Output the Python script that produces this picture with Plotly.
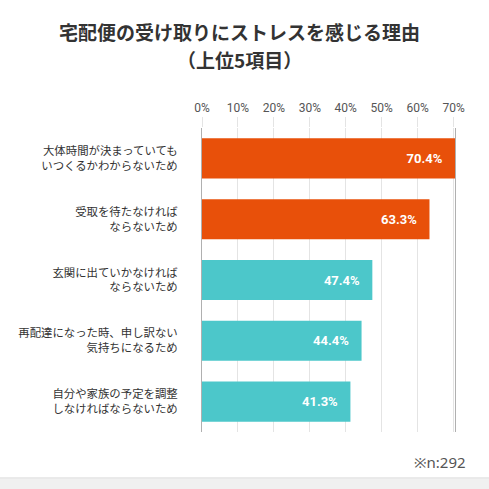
import plotly.graph_objects as go

categories = [
    "大体時間が決まっていても<br>いつくるかわからないため",
    "受取を待たなければ<br>ならないため",
    "玄関に出ていかなければ<br>ならないため",
    "再配達になった時、申し訳ない<br>気持ちになるため",
    "自分や家族の予定を調整<br>しなければならないため",
]
values = [70.4, 63.3, 47.4, 44.4, 41.3]
bar_colors = ["#E8500A", "#E8500A", "#4CC7CA", "#4CC7CA", "#4CC7CA"]
tick_vals = [0, 10, 20, 30, 40, 50, 60, 70]
tick_text = ["0%", "10%", "20%", "30%", "40%", "50%", "60%", "70%"]
title_lines = ["宅配便の受け取りにストレスを感じる理由", "（上位5項目）"]
note_text = "※n:292"

FONT = "Noto Sans CJK JP"
NUM_FONT = "Roboto"

fig = go.Figure(go.Bar(
    x=values,
    y=categories,
    orientation="h",
    marker=dict(color=bar_colors, line=dict(width=0)),
    texttemplate="<b>%{x:.1f}%</b>&nbsp;&nbsp;&nbsp;",
    textposition="inside",
    insidetextanchor="end",
    textfont=dict(color="white", size=13, family=NUM_FONT),
    cliponaxis=False,
))

annotations = [
    dict(text="<b>" + title_lines[0] + "</b>", xref="paper", yref="paper",
         x=0.150, y=1.3174, xanchor="center", yanchor="middle", showarrow=False,
         font=dict(size=19, color="#333333", family=FONT)),
    dict(text="<b>" + title_lines[1] + "</b>", xref="paper", yref="paper",
         x=0.150, y=1.2253, xanchor="center", yanchor="middle", showarrow=False,
         font=dict(size=19, color="#333333", family=FONT)),
    dict(text=note_text, xref="paper", yref="paper", x=1.051, y=-0.0987,
         xanchor="right", yanchor="middle", showarrow=False,
         font=dict(size=15, color="#555555", family="Noto Sans")),
]

fig.update_layout(
    width=489, height=489,
    margin=dict(l=202, r=34, t=128, b=57),
    paper_bgcolor="white",
    plot_bgcolor="white",
    bargap=0.34,
    showlegend=False,
    font=dict(family=FONT, color="#333333"),
    xaxis=dict(
        side="top",
        range=[0, 70.4],
        tickvals=tick_vals,
        ticktext=tick_text,
        showgrid=True,
        gridcolor="#e4e4e4",
        gridwidth=1,
        ticks="outside",
        ticklen=10,
        tickcolor="#e4e4e4",
        tickfont=dict(size=12, color="#555555", family=NUM_FONT),
        zeroline=False,
        showline=False,
        fixedrange=True,
    ),
    yaxis=dict(
        categoryorder="array",
        categoryarray=categories[::-1],
        autorange=True,
        showgrid=False,
        showline=True,
        mirror=True,
        linecolor="#b0b0b0",
        linewidth=1,
        ticks="",
        ticklabelstandoff=21,
        tickfont=dict(size=11.4, color="#333333", family=FONT),
    ),
    shapes=[
        dict(type="rect", xref="paper", yref="paper",
             x0=-2, x1=2, y0=-0.3, y1=-0.151,
             fillcolor="#f0f0f0", line=dict(width=0), layer="below"),
        dict(type="line", xref="paper", yref="paper",
             x0=-2, x1=2, y0=-0.151, y1=-0.151,
             line=dict(color="#dddddd", width=1), layer="below"),
    ],
    annotations=annotations,
)

fig.write_html("out.html", config={"displayModeBar": False},
               post_script="document.body.style.margin='0';")
